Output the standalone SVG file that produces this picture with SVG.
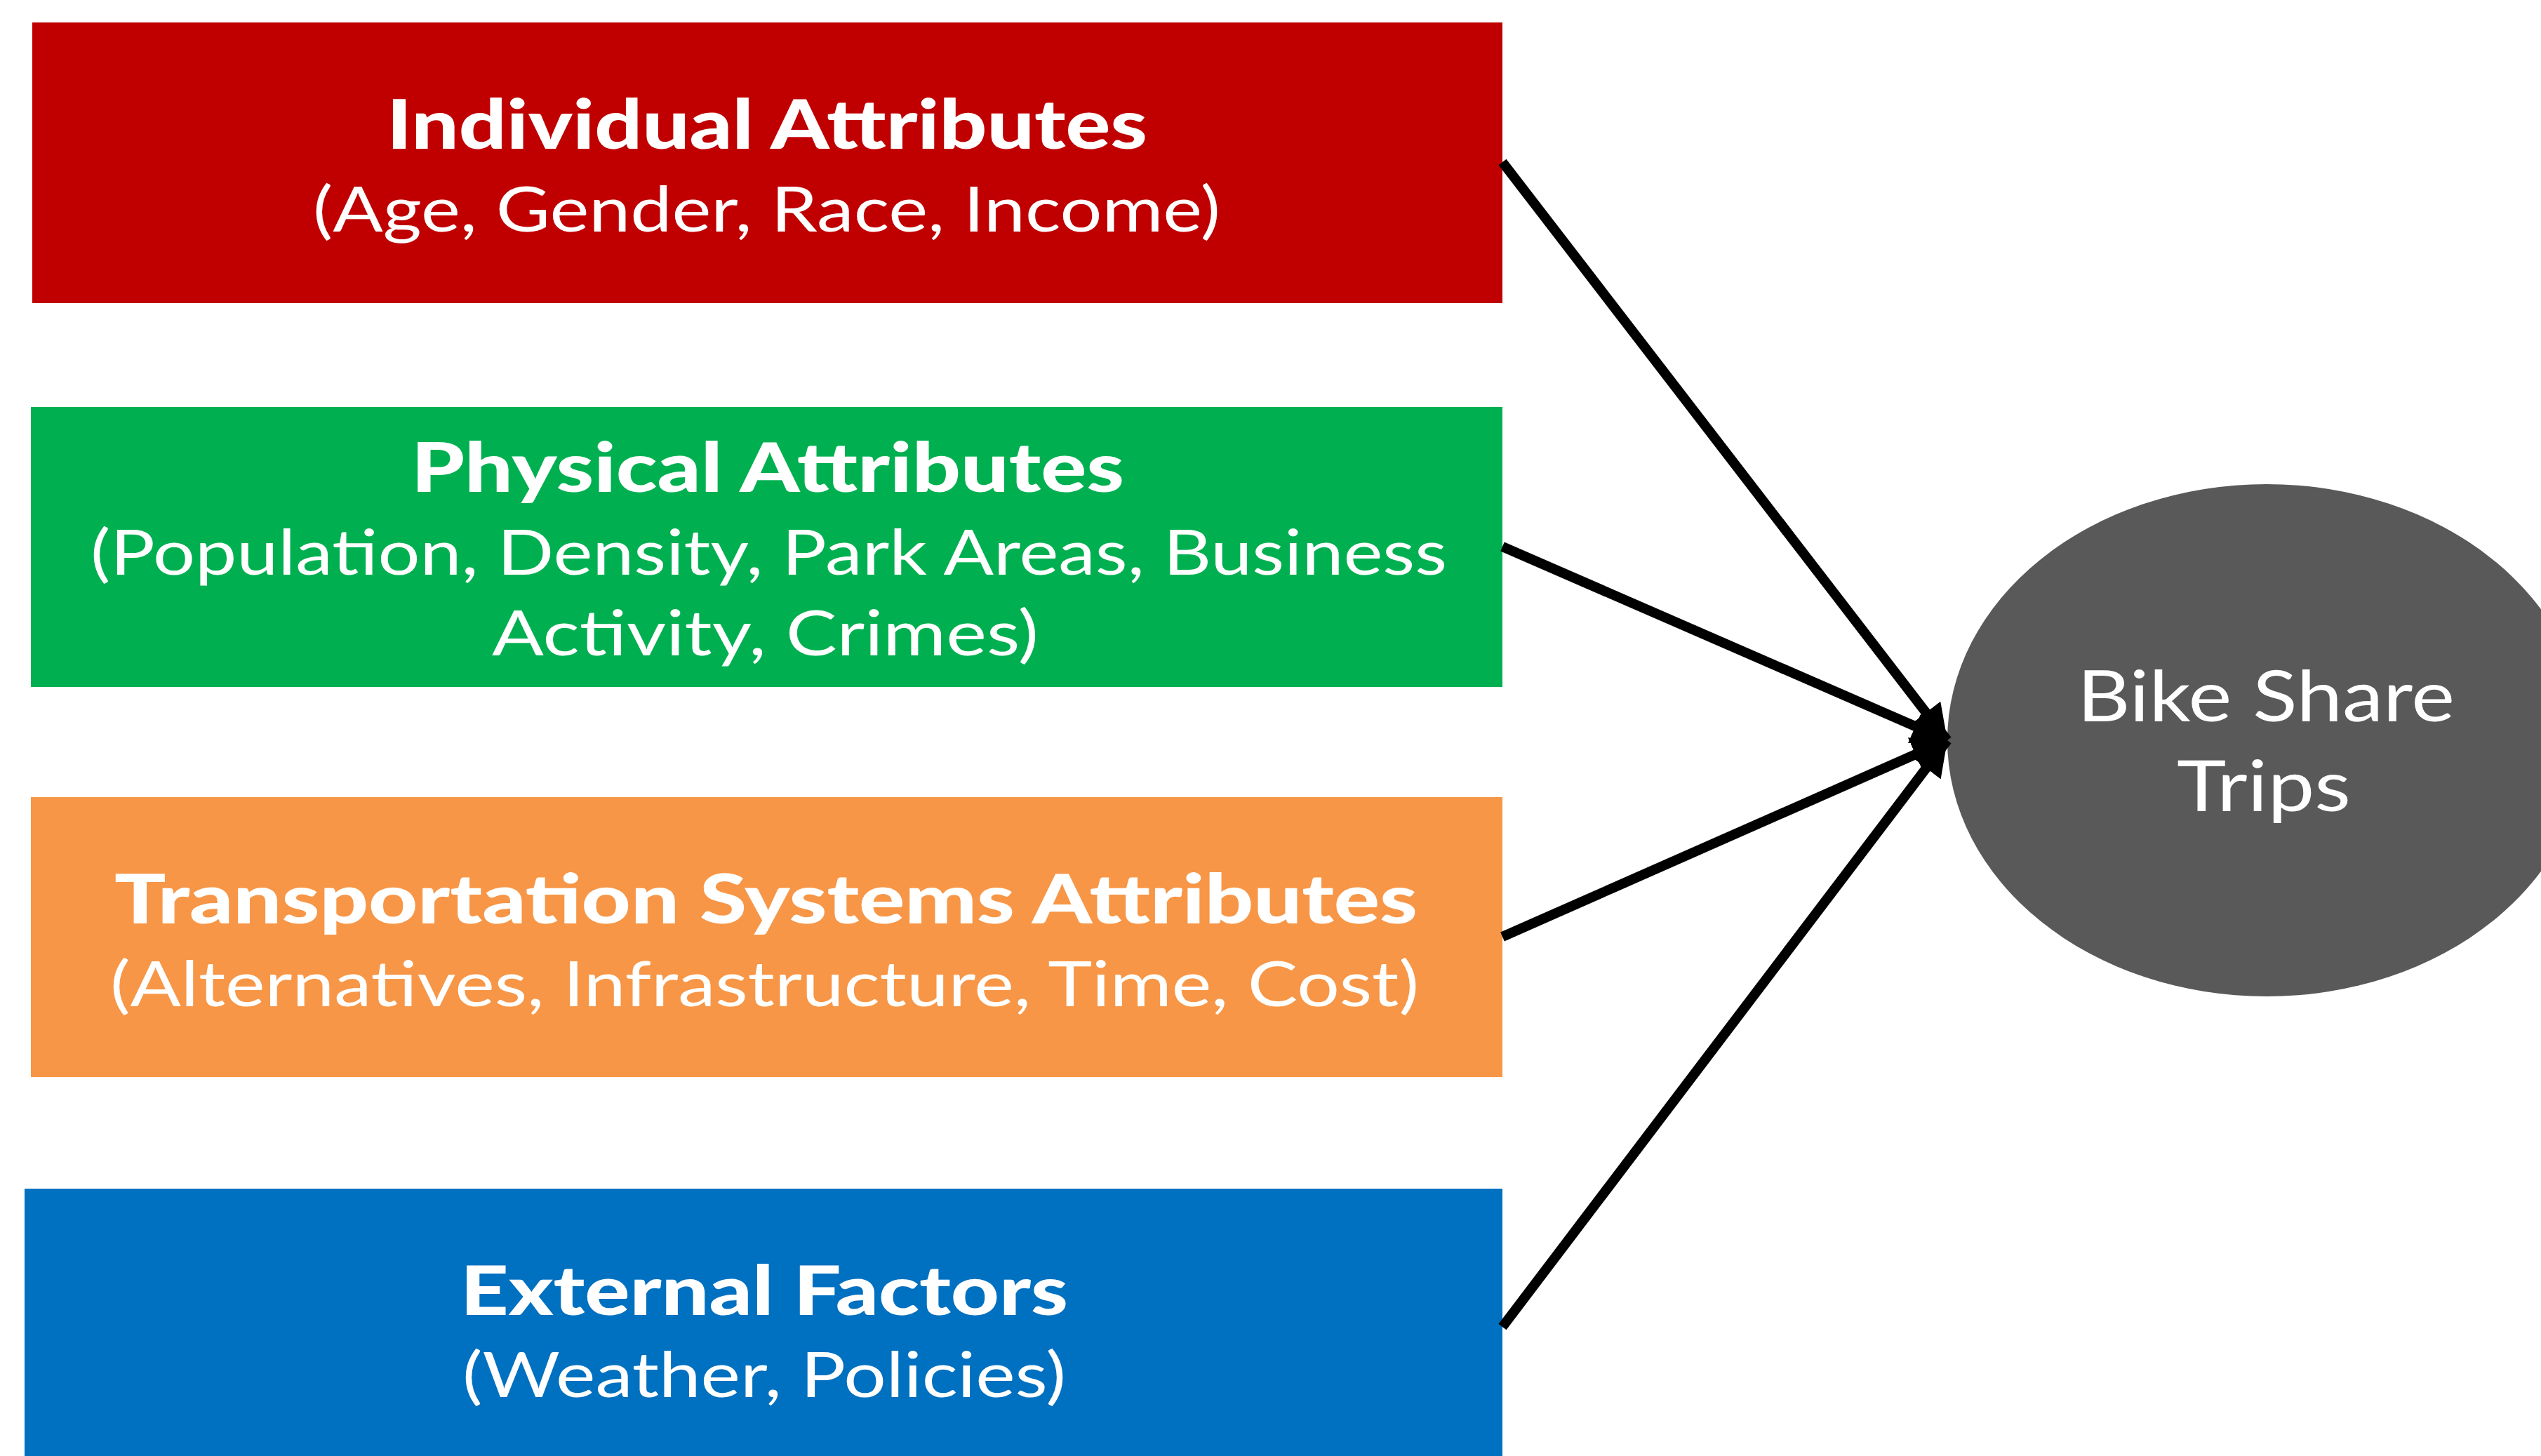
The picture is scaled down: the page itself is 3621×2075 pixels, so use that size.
<svg xmlns="http://www.w3.org/2000/svg" width="3621" height="2075" viewBox="0 0 3621 2075">
  <style>
    .title { font-family: Lato, "Open Sans", "Liberation Sans", sans-serif; font-weight: 900; font-size: 97px; fill: #ffffff; }
    .sub { font-family: Lato, "Open Sans", "Liberation Sans", sans-serif; font-weight: 400; font-size: 89px; fill: #ffffff; }
    .oval { font-family: Lato, "Open Sans", "Liberation Sans", sans-serif; font-weight: 400; font-size: 100px; fill: #ffffff; }
    .link { stroke: #000000; stroke-width: 14; fill: none; marker-end: url(#head); }
  </style>
  <defs>
    <marker id="head" markerUnits="userSpaceOnUse" markerWidth="52" markerHeight="52" refX="46" refY="24" orient="auto" viewBox="0 0 48 48">
      <path d="M0,0 L46,24 L0,48 Z" fill="#000000"/>
    </marker>
  </defs>
  <rect width="3621" height="2075" fill="#ffffff"/>

  <g id="individual">
    <rect x="46" y="32" width="2095" height="400" fill="#C00000"/>
    <text class="title" x="551" y="212" textLength="1084" lengthAdjust="spacingAndGlyphs">Individual Attributes</text>
    <text class="sub" x="446" y="330" textLength="1293" lengthAdjust="spacingAndGlyphs">(Age, Gender, Race, Income)</text>
  </g>

  <g id="physical">
    <rect x="44" y="580" width="2097" height="399" fill="#00B050"/>
    <text class="title" x="586" y="701" textLength="1016" lengthAdjust="spacingAndGlyphs">Physical Attributes</text>
    <text class="sub" x="129" y="819" textLength="1933" lengthAdjust="spacingAndGlyphs">(Population, Density, Park Areas, Business</text>
    <text class="sub" x="701" y="934" textLength="779" lengthAdjust="spacingAndGlyphs">Activity, Crimes)</text>
  </g>

  <g id="transportation">
    <rect x="44" y="1136" width="2097" height="399" fill="#F79646"/>
    <text class="title" x="163" y="1316" textLength="1857" lengthAdjust="spacingAndGlyphs">Transportation Systems Attributes</text>
    <text class="sub" x="157" y="1434" textLength="1865" lengthAdjust="spacingAndGlyphs">(Alternatives, Infrastructure, Time, Cost)</text>
  </g>

  <g id="external">
    <rect x="35" y="1694" width="2106" height="381" fill="#0070C0"/>
    <text class="title" x="656" y="1874" textLength="866" lengthAdjust="spacingAndGlyphs">External Factors</text>
    <text class="sub" x="659" y="1991" textLength="860" lengthAdjust="spacingAndGlyphs">(Weather, Policies)</text>
  </g>

  <g id="bike-share-trips">
    <ellipse cx="3230" cy="1055" rx="455" ry="365" fill="#595959"/>
    <text class="oval" x="2960" y="1028" textLength="538" lengthAdjust="spacingAndGlyphs">Bike Share</text>
    <text class="oval" x="3102" y="1156" textLength="248" lengthAdjust="spacingAndGlyphs">Trips</text>
  </g>

  <g id="connectors">
    <line class="link" x1="2141" y1="231" x2="2775" y2="1055"/>
    <line class="link" x1="2141" y1="779" x2="2775" y2="1055"/>
    <line class="link" x1="2141" y1="1335" x2="2775" y2="1055"/>
    <line class="link" x1="2141" y1="1891" x2="2775" y2="1055"/>
  </g>
</svg>
